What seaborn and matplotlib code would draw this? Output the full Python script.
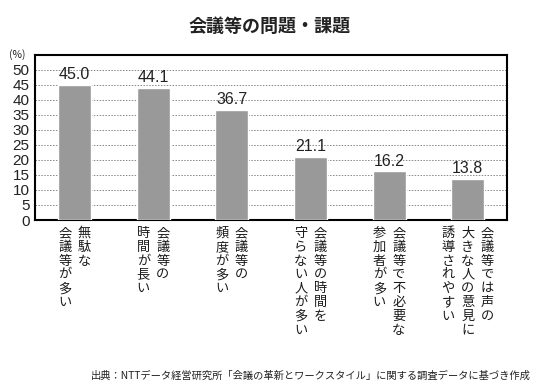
import matplotlib
matplotlib.use("Agg")
import matplotlib.pyplot as plt
import seaborn as sns
import pandas as pd

# Data
categories = [
    "無駄な会議等が多い",
    "会議等の時間が長い",
    "会議等の頻度が多い",
    "会議等の時間を守らない人が多い",
    "会議等で不必要な参加者が多い",
    "会議等では声の大きな人の意見に誘導されやすい",
]
values = [45.0, 44.1, 36.7, 21.1, 16.2, 13.8]
# vertical label columns, read right to left
label_columns = [
    ["無駄な", "会議等が多い"],
    ["会議等の", "時間が長い"],
    ["会議等の", "頻度が多い"],
    ["会議等の時間を", "守らない人が多い"],
    ["会議等で不必要な", "参加者が多い"],
    ["会議等では声の", "大きな人の意見に", "誘導されやすい"],
]
yticks = list(range(0, 55, 5))

title = "会議等の問題・課題"
source = "出典：NTTデータ経営研究所「会議の革新とワークスタイル」に関する調査データに基づき作成"

sns.set_style("white")
plt.rcParams["font.family"] = ["Noto Sans CJK JP", "DejaVu Sans"]

df = pd.DataFrame({"category": categories, "value": values})

fig = plt.figure(figsize=(5.4, 3.87), dpi=100)
ax = fig.add_axes([0.065, 0.4315, 0.874, 0.427])

sns.barplot(data=df, x="category", y="value", color="#999999",
            width=0.42, saturation=1, ax=ax, zorder=3)

ax.set_xlim(-0.5, 5.5)
ax.set_ylim(0, 55)
ax.set_yticks(yticks)
ax.tick_params(axis="y", length=0, labelsize=11, pad=4)
for lab in ax.get_yticklabels():
    lab.set_family("Liberation Sans")
    lab.set_color("#222222")
ax.set_xticks([])
ax.set_xticks([0.5, 1.5, 2.5, 3.5, 4.5], minor=True)
ax.tick_params(axis="x", which="minor", direction="in", length=4,
               width=1, color="black")
ax.set_xlabel("")
ax.set_ylabel("")

for y in yticks[1:]:
    ax.axhline(y, color="#888888", lw=0.7, ls=(0, (1.5, 1.5)), zorder=1)

for sp in ax.spines.values():
    sp.set_visible(True)
    sp.set_color("black")
    sp.set_linewidth(1.5)

# value labels
for i, v in enumerate(values):
    ax.annotate(f"{v:.1f}", xy=(i, v), xytext=(0, 2),
                textcoords="offset points", ha="center", va="bottom",
                fontsize=11.5, family="Liberation Sans", color="#222222")

# vertical category labels
colsp = 14.0
for i, cols in enumerate(label_columns):
    n = len(cols)
    for j, col in enumerate(cols):
        dx = ((n - 1) / 2 - j) * colsp
        ax.annotate("\n".join(col), xy=(i, 0), xycoords=("data", "axes fraction"),
                    xytext=(dx, -5), textcoords="offset points",
                    ha="center", va="top", multialignment="center",
                    fontsize=9.5, linespacing=1.08, color="#1a1a1a")

fig.text(0.017, 0.86, "(%)", fontsize=7.5, ha="left", va="center", color="#222222")
fig.text(0.5, 0.932, title, fontsize=13, fontweight="bold", ha="center",
         va="center", color="#222222")
fig.text(0.982, 0.03, source, fontsize=7.4, ha="right", va="center", color="#222222")

fig.savefig("out.png", dpi=100)
